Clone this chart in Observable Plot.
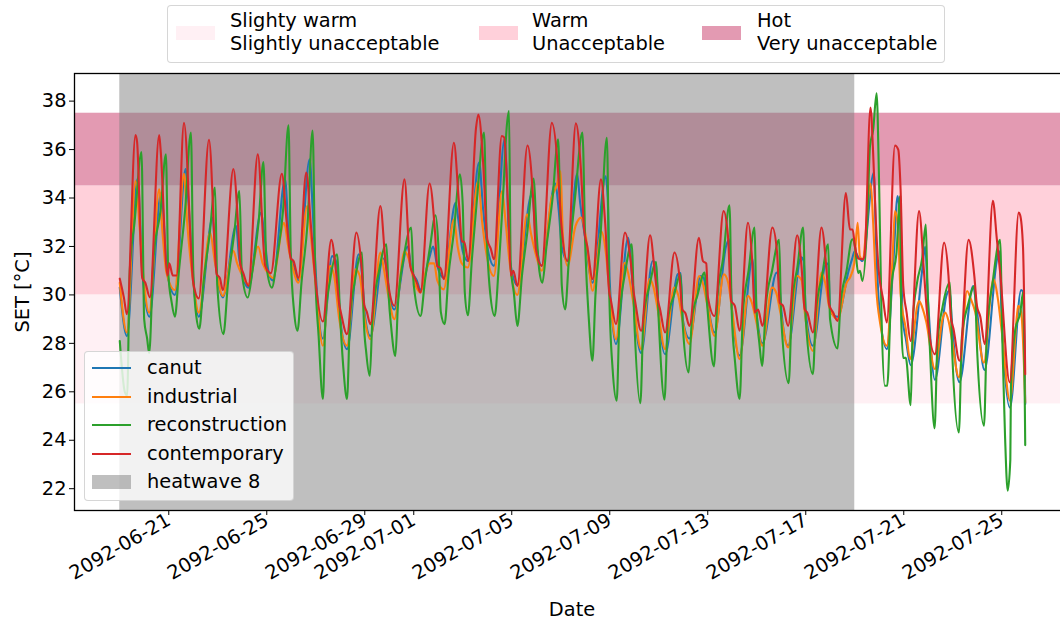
<!DOCTYPE html>
<html>
<head>
<meta charset="utf-8">
<script src="https://cdn.jsdelivr.net/npm/d3@7"></script>
<script src="https://cdn.jsdelivr.net/npm/@observablehq/plot@0.6"></script>
<style>
  html, body { margin: 0; padding: 0; background: #fff; }
  #wrap { position: relative; width: 1060px; height: 624px; overflow: hidden; font-family: "DejaVu Sans", sans-serif; }
  #chart { position: absolute; left: 0; top: 0; width: 1070px; height: 624px; }
  #chart svg { max-width: none !important; }
  .lg { position: absolute; background: rgba(255,255,255,0.8); border: 1px solid rgba(204,204,204,0.8); border-radius: 4px; box-sizing: border-box; }
  .txt { position: absolute; font-size: 19.4px; line-height: 23px; white-space: pre; color: #000; }
  .sw { position: absolute; width: 39px; height: 14px; }
  .ln { position: absolute; width: 39px; height: 2px; }
  .lab { position: absolute; font-size: 19.4px; white-space: pre; color: #000; }
</style>
</head>
<body>
<div id="wrap">
  <div id="chart"></div>
</div>
<script>
// ---- data (hours since 2092-06-19 00:00, value in °C) ----
const startDate = Date.UTC(2092, 5, 19);

const seriesNames = ["canut", "industrial", "reconstruction", "contemporary"];
const seriesColors = ["#1f77b4", "#ff7f0e", "#2ca02c", "#d62728"];

const canut = [
[0,30.3],[7,28.3],[17.5,34.8],[22,31.0],[29,29.1],
[40.5,34.2],[46.5,30.9],[54,30.0],
[64.5,35.2],[67,34.0],[72,30.6],[77.4,29.1],
[91,33.19],[94,31.3],[101,29.9],
[114,32.85],[117,31.5],[126,30.3],
[138.5,33.4],[141,32.7],[146,30.9],[150,30.6],
[162,34.77],[166,32.0],[170,31.2],[175,30.6],
[186,35.6],[189,33.5],[192,30.9],[199,28.2],
[208,31.6],[212.5,31.3],[216,29.0],[222.6,27.76],
[234,31.68],[237,31.0],[240,29.2],[245.5,28.3],
[258,31.5],[261,31.2],[264,30.0],[269,29.4],
[282,32.0],[286,31.0],[291,30.6],[294.6,30.2],
[303,31.5],[307,32.0],[311,31.2],[317.5,30.7],
[329,33.8],[332,33.0],[336,31.8],[341,31.4],
[352,35.46],[356,33.5],[360,32.0],[366.6,31.2],
[377,36.42],[379,35.0],[382,31.5],[389.5,30.4],
[402,34.0],[404,34.2],[407.6,32.3],[413.4,31.2],
[426.5,34.6],[430,33.5],[433,32.0],[438.6,31.4],
[448,35.0],[451,33.8],[455,32.6],[463.2,30.5],
[476,34.9],[478,34.0],[480,30.5],[486.1,27.97],
[498,32.36],[500,31.8],[503,30.0],[510.7,27.6],
[522,31.4],[525,31.3],[527.5,29.5],[534.2,27.55],
[546.5,30.85],[549.5,30.9],[551.5,29.0],[558.1,28.2],
[569,30.78],[572,30.7],[576,29.6],[582.6,28.45],
[594,32.02],[597,32.3],[599.5,29.5],[607.2,27.5],
[620,31.47],[622,30.0],[625,28.8],[629.5,28.0],
[643.5,30.92],[646,30.5],[648,29.4],[654.7,27.9],
[667.5,31.55],[670,31.4],[672,29.3],[679,27.9],
[691,31.2],[694,31.3],[696,29.3],[703.2,29.1],
[714,31.0],[717.5,31.5],[720,31.8],[723,31.6],[727.6,31.4],
[738.7,35.05],[741,32.0],[744,29.5],[751.4,27.76],
[758,31.5],[762,34.08],[764.5,33.0],[767,29.0],[770,28.2],[774.8,27.1],
[786,31.0],[789,32.0],[791.5,30.0],[798.5,26.5],
[810,30.0],[813,30.2],[815,29.0],[822.5,26.4],
[836,30.37],[839,29.6],[847,26.9],
[859.5,31.5],[861.5,31.8],[864,29.0],[872,25.35],
[883,30.2],[885,30.1],[887,25.5]
];

const industrial = [
[0,30.5],[7,28.45],[15.4,34.7],[19.6,32.7],[22.9,30.9],[28.8,29.27],
[38.6,34.36],[42,32.5],[45.8,30.9],[54,30.2],
[62.9,35.0],[66,33.0],[72,30.5],[77.4,29.27],
[88.4,32.57],[93.3,31.33],[101,29.96],
[111.3,31.82],[115,31.3],[120,30.8],[126,30.44],
[135.5,32.0],[140,31.3],[146,30.85],[150,30.7],
[161,32.98],[165,32.0],[169,31.2],[175,30.5],
[183.6,33.67],[187,32.5],[191,30.8],[199,27.9],
[206,31.2],[210,30.8],[215,29.0],[222.6,27.9],
[231,31.06],[235,30.8],[240,29.0],[245.5,28.17],
[255.3,31.75],[259,31.0],[263,30.0],[269,29.0],
[279,31.8],[283,31.5],[288,30.6],[294.6,30.1],
[300,31.0],[303.5,31.3],[308,31.3],[311,30.6],[317.3,30.23],
[327.3,33.12],[331,32.0],[335,31.3],[341,31.13],
[351,34.7],[355,33.0],[360,31.5],[366.5,30.78],
[374.5,34.29],[378,33.0],[382,31.3],[389.5,30.0],
[399,33.33],[403,32.5],[408,31.6],[413.4,31.0],
[423,34.0],[428,34.5],[431.9,35.1],[434,32.5],[438.6,31.2],
[446.5,32.85],[452,33.19],[456.5,32.43],[463.2,30.17],
[472,32.6],[476,31.8],[480,30.0],[486.1,28.17],
[494.5,31.33],[498,30.9],[503,29.7],[510.7,27.76],
[519,30.65],[523,30.3],[527,29.4],[534.2,27.76],
[543,30.3],[547,30.0],[551,29.0],[558.1,27.97],
[567.5,30.78],[571,30.5],[576,29.5],[582.6,28.31],
[591.8,30.85],[596,30.5],[600,29.3],[607.2,27.35],
[615.4,29.96],[619,29.7],[623,29.0],[629.5,27.9],
[639,30.3],[643,30.1],[647,29.3],[654.7,27.83],
[663.5,30.78],[668,30.6],[671,29.3],[679,27.69],
[687.5,30.92],[692,30.3],[695,29.5],[703.2,28.99],
[712,30.5],[716,30.78],[719.5,31.3],[722.8,32.98],[725,31.6],[727.6,31.47],
[735.6,34.6],[738,33.0],[741,30.3],[745,28.8],[751.4,27.9],
[757,31.5],[759.4,33.46],[762,33.0],[765,30.0],[770,28.6],[774.2,27.35],
[781,29.5],[783,29.75],[786,29.5],[790,28.9],[798.5,26.94],
[806,29.0],[808.5,29.27],[812,28.9],[815,28.2],[822,26.6],
[830,30.16],[834,29.8],[838,29.3],[846.5,27.2],
[854,30.3],[856,30.65],[860,29.9],[864,28.5],[872,25.63],
[879,29.2],[880.2,29.55],[883,29.3],[887,25.56]
];

const reconstruction = [
[0,28.1],[4.9,26.0],[7.2,25.84],[9.8,31.0],[14.5,33.0],[21.3,35.9],[23.9,29.0],[26.8,28.2],[28.8,27.6],
[33,31.5],[40,33.5],[45.2,35.8],[47.5,30.9],[50.8,29.7],[54,29.1],
[58,31.0],[64,33.5],[69.7,36.7],[72,31.0],[75,29.1],[77.9,28.6],
[82,30.5],[88,32.5],[93.3,34.43],[95.5,30.4],[101.5,28.38],
[106,30.5],[112,32.5],[117.2,34.29],[119.6,30.9],[125.4,29.89],
[130,31.0],[136,33.0],[140.7,35.48],[143.7,31.2],[149,30.3],
[154,31.5],[160,33.5],[165.3,37.0],[167.5,31.7],[170.8,29.3],[174.1,28.52],
[178,30.5],[184,33.0],[188.9,36.79],[191.5,30.9],[194.8,28.3],[199,25.7],
[201.5,29.0],[206,30.6],[212.8,31.68],[216,28.99],[219,27.0],[222.6,25.7],
[225.5,29.0],[230,30.5],[237.3,31.75],[239,29.0],[241.5,27.6],[244.9,26.66],
[247.5,29.0],[254,31.0],[261.2,32.09],[263.5,29.9],[265.8,28.7],[270,27.48],
[272.5,29.6],[278,31.5],[285.5,32.78],[288,30.4],[294.6,29.13],
[299,30.6],[304,32.0],[309.3,33.29],[312,32.1],[314.5,29.3],[318.2,28.79],
[322,30.8],[327,32.5],[333.2,34.98],[336,33.7],[338,30.1],[341,29.16],
[345,31.5],[350,34.0],[356.8,36.7],[359.5,32.4],[362.8,30.1],[367.3,29.13],
[371,31.0],[376,34.5],[379,36.9],[381.3,37.59],[383,31.2],[386,30.1],[389.5,28.72],
[394,30.8],[399,32.5],[405.3,34.8],[408.7,32.3],[411,31.0],[414,30.5],
[418,32.0],[424,34.0],[429.4,36.42],[431.3,33.8],[433,30.4],[436.3,29.4],
[440,31.5],[446,34.0],[453.2,36.7],[456.2,31.75],[459.5,29.0],[463,27.28],
[466,30.0],[471,32.5],[477.2,36.49],[479.5,30.1],[482.8,26.94],[486.8,25.63],
[489.5,29.0],[495,30.9],[501.5,32.09],[504,29.0],[510,25.53],
[513,29.0],[519,30.4],[525.5,31.36],[527.9,29.0],[533.6,25.67],
[537,29.0],[543,30.0],[549.3,30.85],[551.6,28.7],[557.3,26.8],
[560.5,29.0],[566,30.0],[573,30.92],[575.5,29.55],[582,27.05],
[585.5,29.9],[591,31.5],[597.3,33.7],[599.5,29.27],[602.8,27.2],[607.2,25.7],
[610.5,29.3],[616,31.0],[621.9,32.78],[623.5,29.7],[626.8,27.9],[629.2,27.07],
[633,29.6],[639,31.0],[645.9,32.27],[648,29.0],[655.3,26.36],
[658.5,29.6],[664,31.2],[669.4,32.78],[672,29.0],[679,26.73],
[682,29.3],[688,30.8],[694,32.09],[695.8,29.0],[703.2,27.79],
[706,29.6],[712,31.0],[717.6,32.3],[720.2,32.0],[723.4,30.9],[725,31.0],[727.6,30.58],
[732.3,33.12],[734.9,36.14],[738,36.8],[741.4,38.32],[743.9,34.5],[746.3,29.0],[749.5,26.25],[751.8,26.25],
[756,30.37],[760.9,31.75],[764.5,34.08],[765.5,29.0],[767.5,27.4],[770,27.4],[774.8,25.45],
[777,29.0],[781,30.5],[786,31.5],[789.6,32.9],[791.2,30.4],[793.8,27.6],[798.2,24.49],
[801,28.0],[806,29.5],[813.2,30.51],[815.5,27.6],[822,24.32],
[825,28.3],[831,29.6],[837.4,30.37],[840,27.6],[846.6,24.6],
[849.5,28.5],[855,30.5],[862.3,32.27],[864.9,27.6],[867.2,24.2],[869.8,21.92],[872.4,23.2],
[873,26.25],[877.3,28.58],[882.2,29.27],[884.8,30.1],[887,23.8]
];

const contemporary = [
[0,30.67],[4,29.9],[7,29.2],[15.4,36.6],[17,36.3],[22,30.7],[25,30.5],[29.5,29.9],
[38.6,36.6],[40,36.0],[46.8,30.8],[48.5,31.3],[52,30.8],[55.7,30.8],
[62.9,37.1],[72,30.5],[77.4,29.85],
[87.4,36.4],[95,30.85],[98,30.7],[101,30.2],
[111.3,35.2],[116,32.8],[118,31.3],[121,30.9],[126,30.37],
[135.2,35.8],[142.5,31.2],[148,30.9],
[158.8,35.0],[163.5,33.0],[167.6,31.5],[170.2,31.4],[175,30.7],
[182.7,35.05],[187,33.0],[191,30.9],[199,28.9],
[207.2,32.27],[212,30.9],[215,29.6],[216.5,29.3],[222.6,28.38],
[231.8,32.57],[237,31.1],[239.5,29.6],[242,29.3],[245.5,28.79],
[255.3,33.67],[260,31.5],[263.5,30.3],[269,29.55],
[278.9,34.77],[284.5,31.2],[288,30.8],[291,30.5],[294.6,30.1],
[303.5,34.6],[308.8,32.6],[311,31.2],[314.3,31.1],[317.5,30.65],
[327.3,36.28],[332,33.95],[335.3,32.2],[337.3,32.2],[341.4,31.4],
[349,36.9],[351.3,37.45],[355.9,35.5],[360,32.3],[363.5,31.9],[366.6,31.47],
[374.2,36.56],[376.5,36.5],[380.9,33.1],[383.2,30.8],[385.5,31.0],[389.5,30.37],
[399.4,36.17],[405,33.95],[407.6,31.9],[413.4,31.2],
[423.3,37.1],[428.9,35.4],[432.2,33.1],[438.6,31.4],
[446.8,37.08],[451.7,35.2],[454.9,32.7],[458,32.0],[463.2,30.65],
[471.4,34.77],[475.3,33.1],[479.5,30.1],[481,29.8],[486.1,28.79],
[494.9,32.57],[500.2,31.5],[503.5,30.1],[505,29.7],[510.7,28.52],
[519.5,32.46],[524.4,30.8],[527.7,29.68],[529.3,29.4],[534.2,28.45],
[543.4,31.75],[548.4,30.7],[551,29.4],[554,29.25],[558.1,28.72],
[567.3,32.36],[571.3,31.4],[574.5,31.3],[576.2,29.9],[582.6,29.13],
[591.5,33.46],[595.8,32.43],[599,29.75],[602.5,29.55],[607.2,28.52],
[615.4,32.98],[619.6,31.35],[622,29.27],[625.3,29.4],[629.5,28.72],
[639.3,32.78],[643.9,31.75],[646.5,29.68],[649.7,29.55],[654.7,28.72],
[663.6,32.46],[667.8,31.2],[671,29.4],[673.4,29.27],[679,28.45],
[687.4,32.78],[692.3,31.06],[694.9,29.6],[698.8,29.27],[703.2,28.93],
[711.3,34.2],[715.3,32.7],[717.9,32.7],[720.2,32.0],[723.4,31.5],[727.6,31.47],
[729.5,31.6],[735.4,37.73],[738,35.87],[740.6,33.1],[742.9,31.3],[747.8,29.8],[751.4,28.86],
[759.4,36.17],[762.6,36.0],[764.9,34.36],[767.5,30.37],[770.8,29.27],[774.8,28.1],
[783,33.46],[787.9,30.9],[790.5,29.4],[798.5,27.55],
[807.5,32.16],[811.8,30.8],[814.1,29.1],[816.7,28.6],[822.6,27.28],
[831.5,32.27],[837.1,30.8],[839.7,29.55],[843,29.1],[847.3,27.97],
[855.3,33.88],[859.2,32.3],[862.5,30.9],[871.8,26.39],
[880.6,33.4],[882,33.3],[884.8,32.0],[887,26.73]
];

// comfort bands
const bandLabels = [["Slighty warm", "Slightly unacceptable"], ["Warm", "Unacceptable"], ["Hot", "Very unacceptable"]];
const bandLow = [25.5, 30, 34.5];
const bandHigh = [30, 34.5, 37.5];
const bandColors = ["#fff0f4", "#ffd0da", "#e39ab2"];

// heatwave period (hours since start)
const heatwaveLabel = "heatwave 8";
const heatwaveStart = 0;
const heatwaveEnd = 720;

// axis ticks
const xTickDates = ["2092-06-21","2092-06-25","2092-06-29","2092-07-01","2092-07-05","2092-07-09","2092-07-13","2092-07-17","2092-07-21","2092-07-25"];
const yTicks = [22, 24, 26, 28, 30, 32, 34, 36, 38];
const xLabel = "Date";
const yLabel = "SET [°C]";

// ---- build ----
const toDate = h => new Date(startDate + h * 3600e3);
const allSeries = [canut, industrial, reconstruction, contemporary];
const lineData = allSeries.map(s => s.map(([h, v]) => ({date: toDate(h), v})));
const allVals = allSeries.flat().map(d => d[1]);
const allHours = allSeries.flat().map(d => d[0]);
const vMin = d3.min(allVals), vMax = d3.max(allVals);
const hMin = d3.min(allHours), hMax = d3.max(allHours);
const padY = (vMax - vMin) * 0.05, padX = (hMax - hMin) * 0.05;
const xDomain = [toDate(hMin - padX), toDate(hMax + padX)];
const yDomain = [vMin - padY, vMax + padY];

const bands = bandLow.map((lo, i) => ({lo, hi: bandHigh[i], color: bandColors[i], x1: xDomain[0], x2: xDomain[1]}));
const heat = [{x1: toDate(heatwaveStart), x2: toDate(heatwaveEnd), y1: yDomain[0], y2: yDomain[1]}];
const xTicks = xTickDates.map(s => new Date(s + "T00:00:00Z"));

const plot = Plot.plot({
  width: 1070,
  height: 624,
  marginTop: 73,
  marginBottom: 114,
  marginLeft: 74,
  marginRight: 0,
  style: {fontFamily: "DejaVu Sans", fontSize: "19.4px", background: "transparent", color: "#000", maxWidth: "none"},
  x: {type: "utc", domain: xDomain, label: null},
  y: {domain: yDomain, label: null},
  marks: [
    Plot.rect(bands, {x1: "x1", x2: "x2", y1: "lo", y2: "hi", fill: "color"}),
    Plot.rect(heat, {x1: "x1", x2: "x2", y1: "y1", y2: "y2", fill: "#808080", fillOpacity: 0.5}),
    ...lineData.map((d, i) => Plot.line(d, {x: "date", y: "v", stroke: seriesColors[i], strokeWidth: 2.1, strokeLinejoin: "round", curve: "monotone-x"})),
    Plot.axisX({ticks: xTicks, tickFormat: d3.utcFormat("%Y-%m-%d"), tickRotate: -30, tickSize: 5, tickPadding: 3, label: null}),
    Plot.axisY({ticks: yTicks, tickSize: 5, tickPadding: 3, label: null}),
    Plot.frame({stroke: "#000", strokeWidth: 1.3})
  ]
});
plot.style.maxWidth = "none";
document.getElementById("chart").appendChild(plot);

// ---- legends & axis labels (HTML overlay) ----
const wrap = document.getElementById("wrap");
function el(cls, styles, text) {
  const e = document.createElement("div");
  e.className = cls;
  Object.assign(e.style, styles);
  if (text != null) e.textContent = text;
  wrap.appendChild(e);
  return e;
}
// top legend
el("lg", {left: "167px", top: "5px", width: "778px", height: "58px"});
const topSwX = [176, 479, 702];
const topTxX = [230, 532, 757];
bandLabels.forEach((lab, i) => {
  el("sw", {left: topSwX[i] + "px", top: "26px", background: bandColors[i]});
  el("txt", {left: topTxX[i] + "px", top: "9px"}, lab.join("\n"));
});
// series legend
el("lg", {left: "84px", top: "351px", width: "210px", height: "150px"});
const rowY = [368, 396.5, 425, 453.5, 482];
seriesNames.forEach((n, i) => {
  el("ln", {left: "92px", top: (rowY[i] - 1) + "px", background: seriesColors[i]});
  el("txt", {left: "147px", top: (rowY[i] - 12) + "px"}, n);
});
el("sw", {left: "92px", top: (rowY[4] - 7) + "px", background: "rgba(128,128,128,0.5)"});
el("txt", {left: "147px", top: (rowY[4] - 12) + "px"}, heatwaveLabel);
// axis labels
el("lab", {left: "572px", top: "609px", transform: "translate(-50%,-50%)"}, xLabel);
el("lab", {left: "22px", top: "292px", transform: "translate(-50%,-50%) rotate(-90deg)"}, yLabel);
</script>
</body>
</html>
